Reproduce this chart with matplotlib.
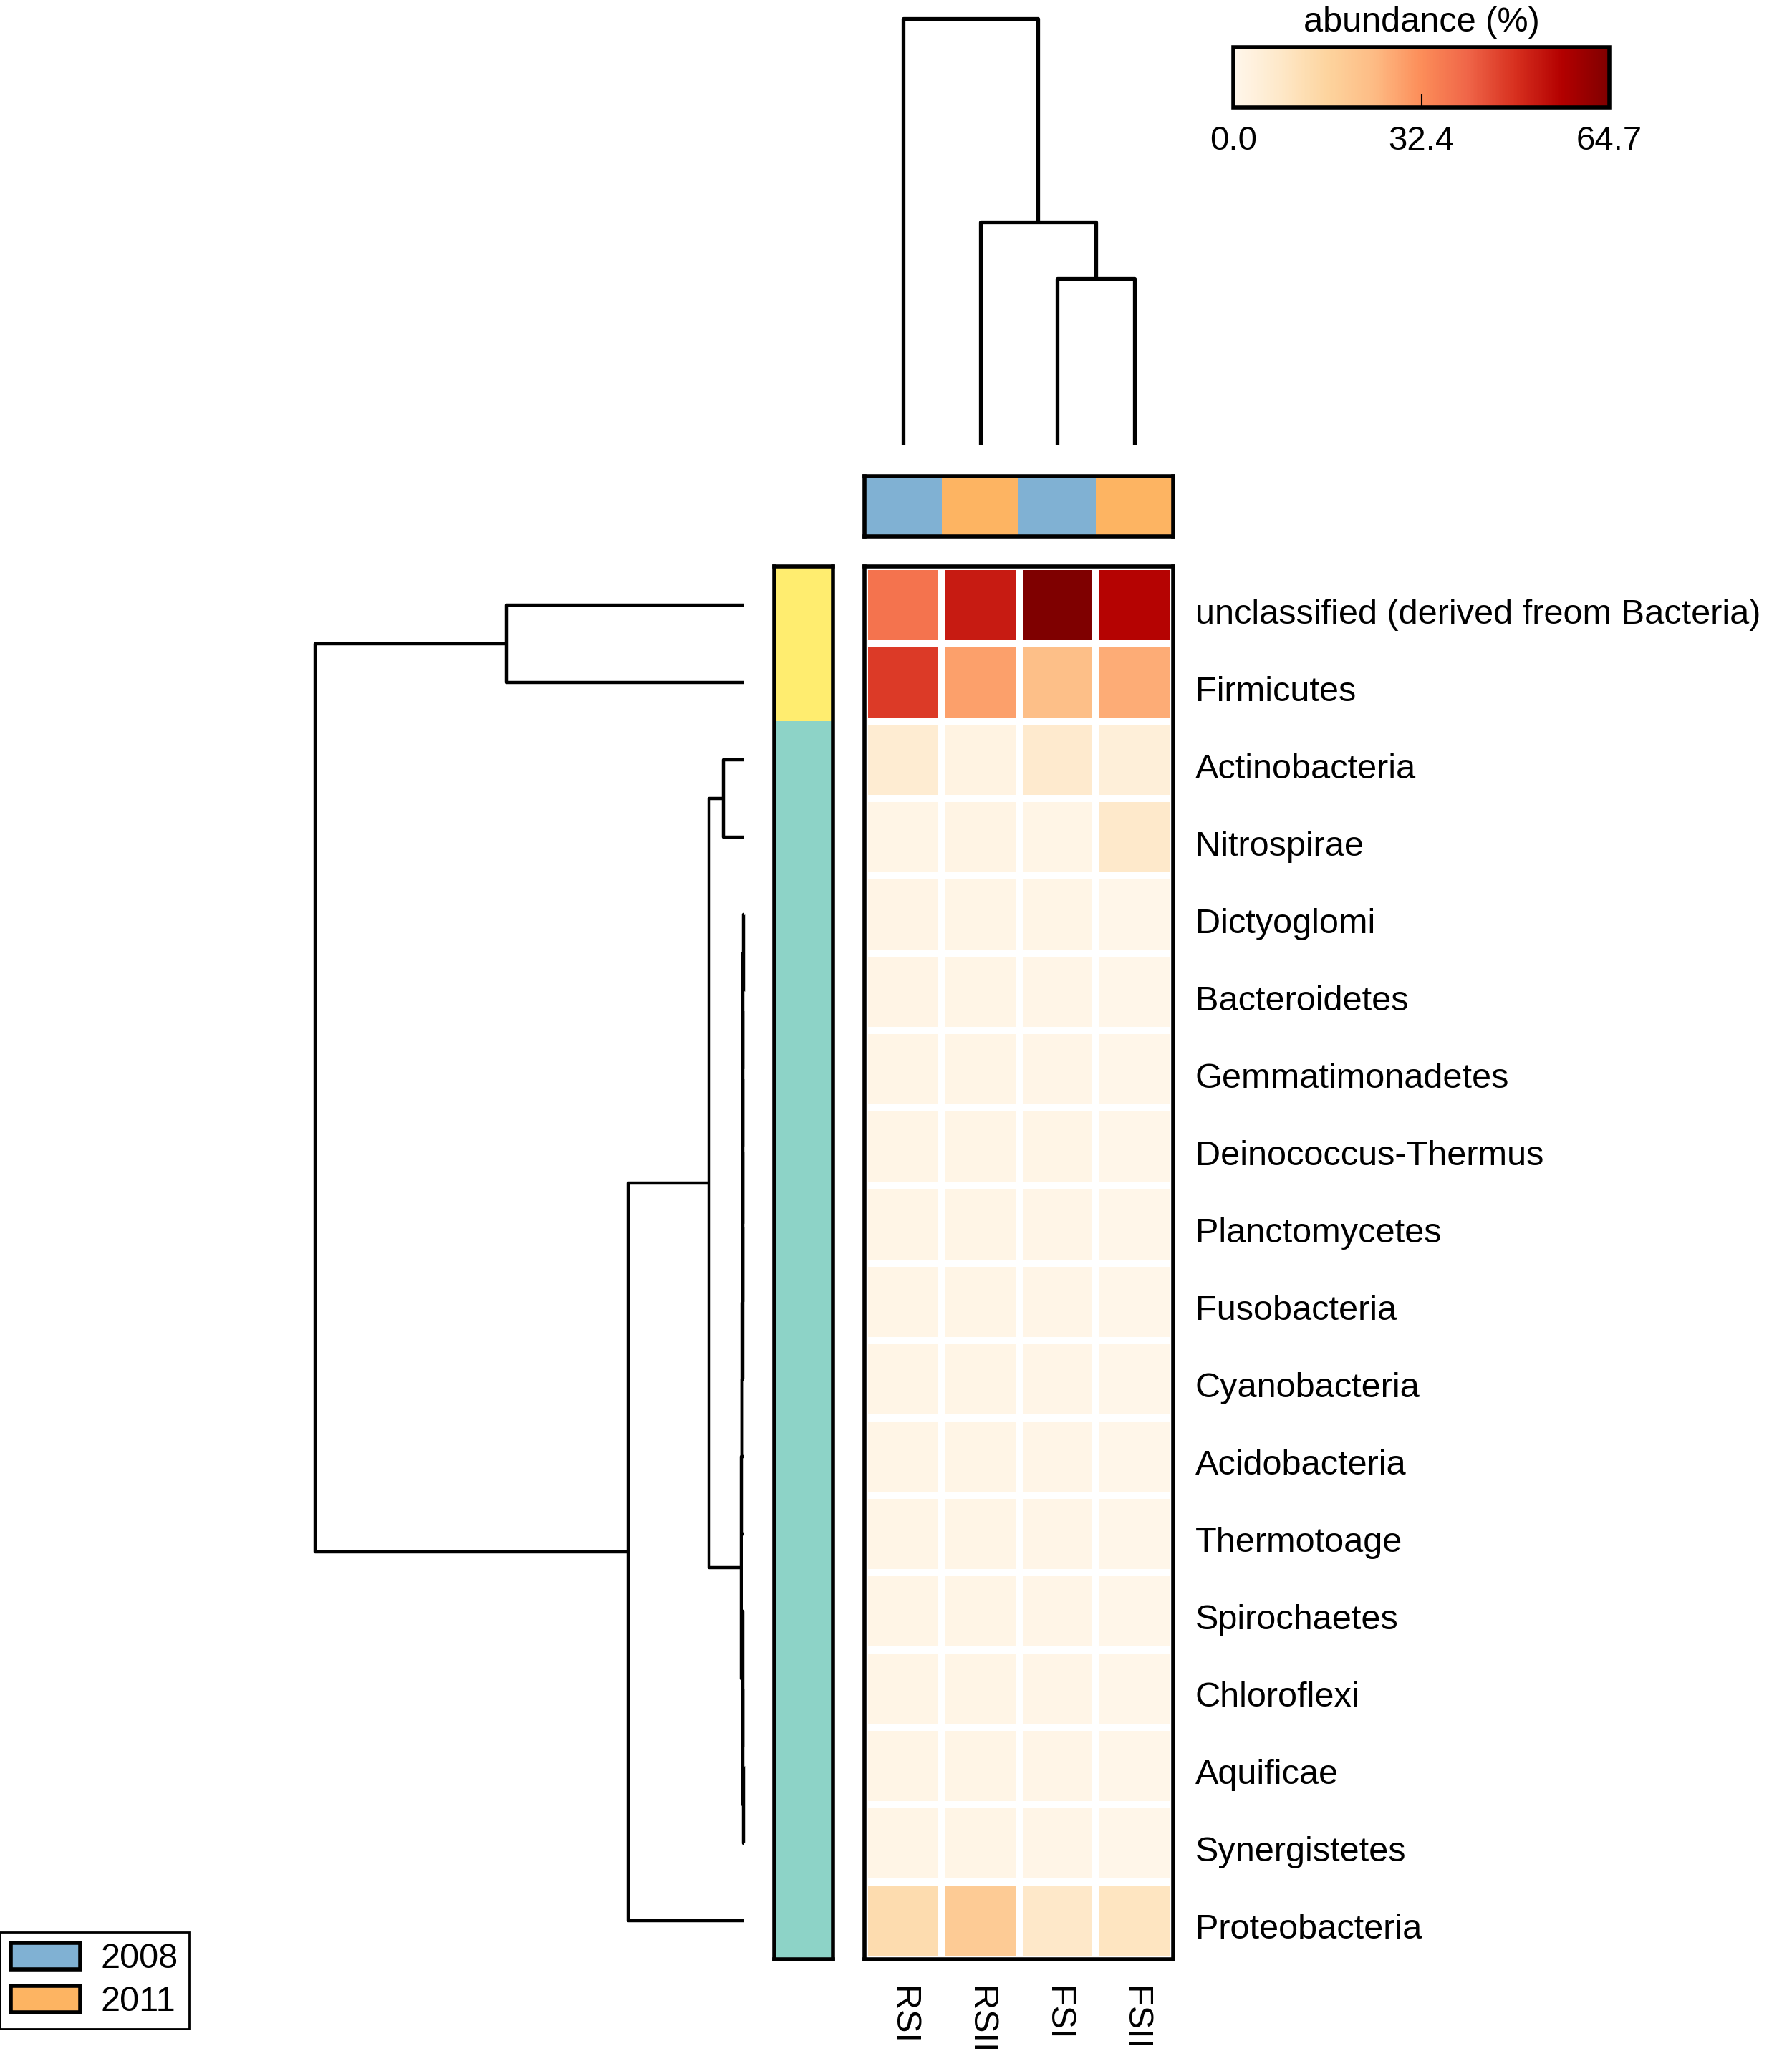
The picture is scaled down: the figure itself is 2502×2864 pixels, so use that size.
import numpy as np
import matplotlib
matplotlib.use('Agg')
import matplotlib.pyplot as plt
from matplotlib.colors import ListedColormap
from matplotlib.patches import Patch
from matplotlib.transforms import ScaledTranslation

plt.rcParams['font.family'] = ['Liberation Sans', 'DejaVu Sans']

# --- datos ---
phyla = ['unclassified (derived freom Bacteria)', 'Firmicutes', 'Actinobacteria',
         'Nitrospirae', 'Dictyoglomi', 'Bacteroidetes', 'Gemmatimonadetes',
         'Deinococcus-Thermus', 'Planctomycetes', 'Fusobacteria', 'Cyanobacteria',
         'Acidobacteria', 'Thermotoage', 'Spirochaetes', 'Chloroflexi', 'Aquificae',
         'Synergistetes', 'Proteobacteria']
samples = ['RSI', 'RSII', 'FSI', 'FSII']
sample_year = [2008, 2011, 2008, 2011]
year_colors = {2008: '#80b1d3', 2011: '#fdb462'}
row_group = [1, 1, 0, 0, 0, 0, 0, 0, 0, 0, 0, 0, 0, 0, 0, 0, 0, 0]
group_colors = ['#8dd3c7', '#ffed6f']

# abundancia (%) por fila (filo) y columna (muestra)
abundance = np.array([
    [37.5, 52.0, 64.7, 56.0],
    [47.0, 29.0, 23.0, 27.0],
    [6.0, 2.5, 7.0, 4.5],
    [1.5, 2.0, 1.5, 7.5],
    [1.6, 1.5, 1.3, 0.9],
    [1.7, 1.5, 1.2, 0.9],
    [1.5, 1.4, 1.2, 0.9],
    [1.5, 1.4, 1.3, 0.9],
    [1.5, 1.4, 1.2, 0.8],
    [1.5, 1.4, 1.2, 0.8],
    [1.5, 1.5, 1.2, 0.8],
    [1.5, 1.4, 1.2, 0.8],
    [1.5, 1.4, 1.2, 0.8],
    [1.5, 1.4, 1.2, 0.8],
    [1.5, 1.4, 1.2, 0.9],
    [1.5, 1.4, 1.2, 0.8],
    [1.5, 1.4, 1.2, 0.9],
    [13.0, 19.0, 8.0, 9.5],
])
vmax = 64.7

# dendrogramas: (hijo izq, hijo der, altura), nodos nuevos n, n+1, ...
col_merges = [(2, 3, 0.39), (1, 4, 0.523), (0, 5, 1.0)]
row_merges = [
    (0, 1, 0.554),      # 18
    (2, 3, 0.048),      # 19
    (4, 5, 0.002),      # 20
    (20, 6, 0.003),     # 21
    (21, 7, 0.003),     # 22
    (22, 8, 0.004),     # 23
    (23, 9, 0.004),     # 24
    (24, 10, 0.004),    # 25
    (25, 11, 0.005),    # 26
    (26, 12, 0.005),    # 27
    (15, 16, 0.002),    # 28
    (14, 28, 0.003),    # 29
    (13, 29, 0.004),    # 30
    (27, 30, 0.007),    # 31
    (19, 31, 0.082),    # 32
    (32, 17, 0.270),    # 33
    (18, 33, 1.0),      # 34
]

W, H = 2502, 2864
fig = plt.figure(figsize=(W / 100, H / 100), dpi=100)


def box(x0, y0, x1, y1):
    # caja en pixeles -> coordenadas de figura
    return [x0 / W, 1 - y1 / H, (x1 - x0) / W, (y1 - y0) / H]


def draw_dendro(ax, merges, n, orient, lw=3.5):
    pos = [i + 0.5 for i in range(n)]
    hts = [0.0] * n
    for l, r, h in merges:
        xs = [pos[l], pos[l], pos[r], pos[r]]
        ys = [hts[l], h, h, hts[r]]
        if orient == 'top':
            ax.plot(xs, ys, color='black', lw=lw, clip_on=False, solid_capstyle='butt')
        else:
            ax.plot(ys, xs, color='black', lw=lw, clip_on=False, solid_capstyle='butt')
        pos.append((pos[l] + pos[r]) / 2)
        hts.append(h)


nrow, ncol = abundance.shape

# mapa de calor
ax = fig.add_axes(box(1207, 791, 1638, 2736))
mesh = ax.pcolormesh(abundance, cmap='OrRd', vmin=0, vmax=vmax,
                     edgecolors='white', linewidth=7)
ax.set_xlim(0, ncol)
ax.set_ylim(nrow, 0)
ax.yaxis.tick_right()
ax.set_yticks(np.arange(nrow) + 0.5)
ax.set_yticklabels(phyla, fontsize=35)
ax.set_xticks(np.arange(ncol) + 0.5)
ax.set_xticklabels(samples, fontsize=35, rotation=270)
ax.tick_params(axis='y', length=0, pad=22)
ax.tick_params(axis='x', length=0, pad=27)
shift = ScaledTranslation(0, -0.08, fig.dpi_scale_trans)
for t in ax.get_yticklabels():
    t.set_transform(t.get_transform() + shift)
for s in ax.spines.values():
    s.set_linewidth(4)

# barra de color por fila
axr = fig.add_axes(box(1081, 791, 1163, 2736))
axr.imshow(np.array(row_group)[:, None], cmap=ListedColormap(group_colors),
           aspect='auto', interpolation='nearest', extent=(0, 1, nrow, 0))
axr.set_xticks([])
axr.set_yticks([])
for s in axr.spines.values():
    s.set_linewidth(4)

# barra de color por columna (anio)
axc = fig.add_axes(box(1207, 665, 1638, 749))
years = sorted(year_colors)
axc.imshow(np.array([[years.index(y) for y in sample_year]]),
           cmap=ListedColormap([year_colors[y] for y in years]),
           aspect='auto', interpolation='nearest', extent=(0, ncol, 1, 0))
axc.set_xticks([])
axc.set_yticks([])
for s in axc.spines.values():
    s.set_linewidth(4)

# dendrograma superior
axt = fig.add_axes(box(1207, 26, 1638, 621))
draw_dendro(axt, col_merges, ncol, 'top', lw=3.8)
axt.set_xlim(0, ncol)
axt.set_ylim(0, 1)
axt.axis('off')

# dendrograma lateral
axl = fig.add_axes(box(440, 791, 1039, 2736))
draw_dendro(axl, row_merges, nrow, 'left', lw=3.2)
axl.set_xlim(1, 0)
axl.set_ylim(nrow, 0)
axl.axis('off')

# leyenda de la escala
cax = fig.add_axes(box(1722, 66, 2247, 150))
cb = fig.colorbar(mesh, cax=cax, orientation='horizontal', ticks=[0, vmax / 2, vmax])
cb.set_ticklabels(['0.0', '32.4', '64.7'])
cb.outline.set_linewidth(4)
cax.tick_params(direction='in', length=14, width=1.5, pad=18, labelsize=34)
cax.set_title('abundance (%)', fontsize=35, pad=16)

# leyenda de anios
handles = [Patch(facecolor=year_colors[y], edgecolor='black', linewidth=4) for y in years]
leg = fig.legend(handles, [str(y) for y in years], loc='lower left',
                 bbox_to_anchor=(0.0, 1 - 2833 / H), fontsize=35, frameon=True,
                 fancybox=False, edgecolor='black', framealpha=1,
                 handlelength=2.0, handleheight=0.8, borderpad=0.3,
                 labelspacing=0.3, handletextpad=0.6, borderaxespad=0)
leg.get_frame().set_linewidth(2)

fig.savefig('out.png', dpi=100, facecolor='white')
